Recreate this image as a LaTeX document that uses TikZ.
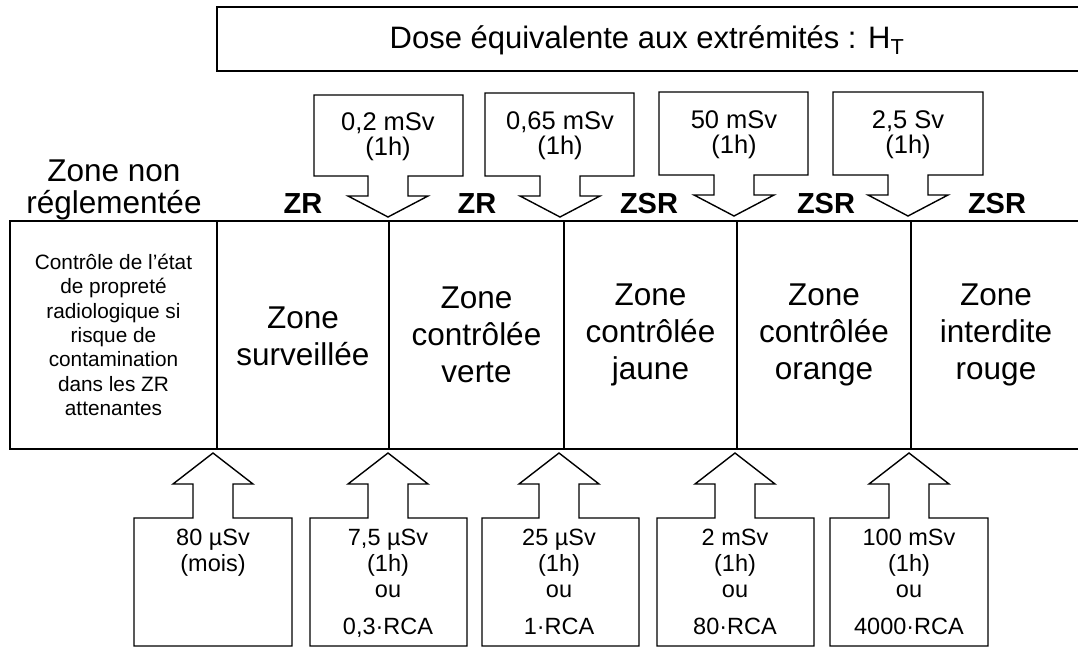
\documentclass[tikz,border=0pt]{standalone}
\usepackage{fontspec}
\setmainfont{Liberation Sans}
\begin{document}
\begin{tikzpicture}[x=1pt,y=-1pt,line join=miter,
  frame/.style={draw=black,line width=1.8pt},
  callout/.style={draw=black,fill=white,line width=1.4pt},
  titletxt/.style={font=\fontsize{31}{34}\selectfont,inner sep=0pt},
  zonetxt/.style={font=\fontsize{31.5}{37}\selectfont,align=center,inner sep=0pt},
  smalltxt/.style={font=\fontsize{20.8}{24.4}\selectfont,align=center,inner sep=0pt},
  toptxt/.style={font=\fontsize{25.5}{25}\selectfont,align=center,inner sep=0pt},
  bottxt/.style={font=\fontsize{23.5}{26}\selectfont,align=center,inner sep=0pt,anchor=north},
  zlabel/.style={font=\bfseries\fontsize{29}{32}\selectfont,inner sep=0pt,anchor=base},
]
\useasboundingbox (0,0) rectangle (1078,648);
\newcommand\topcall[7]{%
  \draw[callout] (#2,#4) -- (#3,#4) -- (#3,#5) -- (#6+20,#5) -- (#6+20,#5+20)
    -- (#6+40,#5+20) -- (#6,#5+41) -- (#6-40,#5+20) -- (#6-20,#5+20)
    -- (#6-20,#5) -- (#2,#5) -- cycle;
  \node[toptxt] (#1) at (#6,{(#4+#5)/2+1}) {#7};}
\newcommand\botcall[5]{%
  \draw[callout] (#2,646) -- (#2,518) -- (#4-20,518) -- (#4-20,484)
    -- (#4-40,484) -- (#4,453) -- (#4+40,484) -- (#4+20,484)
    -- (#4+20,518) -- (#3,518) -- (#3,646) -- cycle;
  \node[bottxt] (#1) at (#4,529) {#5};}

% title box
\draw[frame] (217,7) rectangle (1095,71);
\node[titletxt] (title) at (647,40) {Dose équivalente aux extrémités : H\textsubscript{T}};

% zone row
\draw[frame] (1095,221) -- (10,221) -- (10,449) -- (1095,449);
\foreach \xx in {217,389,564,737,911} \draw[frame] (\xx,221) -- (\xx,449);

\node[smalltxt] (z0) at (113.5,335) {Contrôle de l’état\\de propreté\\radiologique si\\risque de\\contamination\\dans les ZR\\attenantes};
\node[zonetxt] (z1) at (303,336) {Zone\\surveillée};
\node[zonetxt] (z2) at (476.5,335) {Zone\\contrôlée\\verte};
\node[zonetxt] (z3) at (650.5,335) {Zone\\contrôlée\\jaune};
\node[zonetxt] (z4) at (824,335) {Zone\\contrôlée\\orange};
\node[zonetxt] (z5) at (996,335) {Zone\\interdite\\rouge};

% labels above
\node[zonetxt,anchor=base] (nr) at (114,181) {Zone non};
\node[zonetxt,anchor=base] (nr2) at (114,213) {réglementée};
\node[zlabel] (l1) at (303,213) {ZR};
\node[zlabel] (l2) at (477,213) {ZR};
\node[zlabel] (l3) at (649,213) {ZSR};
\node[zlabel] (l4) at (826,213) {ZSR};
\node[zlabel] (l5) at (997,213) {ZSR};

% top callouts
\topcall{t1}{314}{463}{95}{176}{388}{0,2 mSv\\(1h)}
\topcall{t2}{485}{634}{93}{176}{560}{0,65 mSv\\(1h)}
\topcall{t3}{659}{808}{92}{175}{734}{50 mSv\\(1h)}
\topcall{t4}{833}{983}{92}{175}{908}{2,5 Sv\\(1h)}

% bottom callouts
\botcall{b1}{134}{292}{213}{80 µSv\\(mois)}
\botcall{b2}{310}{467}{388}{7,5 µSv\\(1h)\\ou\\[11pt]0,3·RCA}
\botcall{b3}{482}{639}{559}{25 µSv\\(1h)\\ou\\[11pt]1·RCA}
\botcall{b4}{657}{814}{735}{2 mSv\\(1h)\\ou\\[11pt]80·RCA}
\botcall{b5}{830}{988}{909}{100 mSv\\(1h)\\ou\\[11pt]4000·RCA}
\end{tikzpicture}
\end{document}
